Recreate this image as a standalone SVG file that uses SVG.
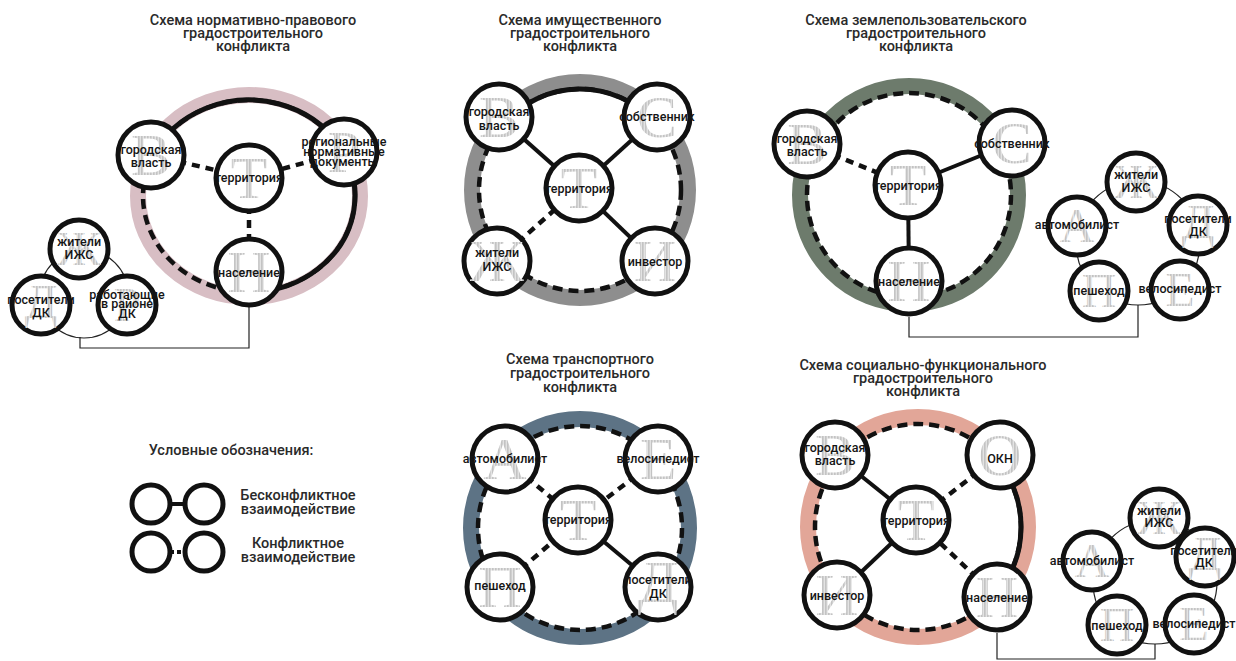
<svg xmlns="http://www.w3.org/2000/svg" width="1236" height="661" viewBox="0 0 1236 661">
<defs>
<pattern id="hatch" width="3" height="3" patternUnits="userSpaceOnUse"><rect width="3" height="3" fill="#e3e3e3"/><rect width="1.6" height="3" fill="#c3c3c3"/></pattern>
</defs>
<style>
.band{fill:none;stroke-width:16}
.rd{fill:none;stroke:#111;stroke-width:4.5;stroke-dasharray:10 6}
.rs{fill:none;stroke:#111;stroke-width:5}
.cs{stroke:#111;stroke-width:4}
.cd{stroke:#111;stroke-width:4.5;stroke-dasharray:8 6}
.thin{fill:none;stroke:#222;stroke-width:1.2}
.node{fill:#fff;stroke:#111;stroke-width:5}
.g{font-family:"Liberation Serif",serif;fill:url(#hatch);text-anchor:middle;font-size:60px}
.gs{font-family:"Liberation Serif",serif;fill:url(#hatch);text-anchor:middle;font-size:48px}
.l{font-family:Roboto,"DejaVu Sans",sans-serif;font-weight:500;fill:#151515;text-anchor:middle;font-size:12.5px}
.t{font-family:Roboto,"DejaVu Sans",sans-serif;font-weight:500;fill:#2a2a2a;text-anchor:middle;font-size:14.5px}
</style>

<!-- Titles -->
<g id="titles">
<text class="t" x="253" y="25">Схема нормативно-правового</text>
<text class="t" x="253" y="38">градостроительного</text>
<text class="t" x="253" y="51">конфликта</text>
<text class="t" x="580" y="25">Схема имущественного</text>
<text class="t" x="580" y="38">градостроительного</text>
<text class="t" x="580" y="51">конфликта</text>
<text class="t" x="916" y="25">Схема землепользовательского</text>
<text class="t" x="916" y="38">градостроительного</text>
<text class="t" x="916" y="51">конфликта</text>
<text class="t" x="580" y="364">Схема транспортного</text>
<text class="t" x="580" y="378">градостроительного</text>
<text class="t" x="580" y="392">конфликта</text>
<text class="t" x="923" y="370">Схема социально-функционального</text>
<text class="t" x="923" y="383">градостроительного</text>
<text class="t" x="923" y="396">конфликта</text>
</g>

<!-- Rings -->
<g id="rings">
<ellipse class="band" stroke="#d8bec4" cx="249" cy="196" rx="111" ry="101" stroke-width="15"/>
<circle class="band" stroke="#8e8e8e" cx="580" cy="190" r="108" stroke-width="18"/>
<circle class="band" stroke="#6d7b6c" cx="909" cy="195" r="109" stroke-width="17"/>
<circle class="band" stroke="#5d7385" cx="580" cy="528" r="109" stroke-width="18"/>
<circle class="band" stroke="#e2a698" cx="918" cy="527" r="110" stroke-width="17"/>
</g>

<!-- Connectors -->
<g id="connectors">
<!-- D1 -->
<ellipse class="rd" cx="249" cy="196" rx="106" ry="96"/>
<path class="rs" d="M152.8,155.7 A106,96 0 1,1 249,292"/>
<line class="cd" x1="151" y1="155" x2="249" y2="178"/>
<line class="cd" x1="344" y1="152" x2="249" y2="178"/>
<line class="cd" x1="249" y1="178" x2="249" y2="272"/>
<circle class="thin" cx="84" cy="294" r="44"/>
<polyline class="thin" points="80,337 80,348 249,348 249,305"/>
<!-- D2 -->
<circle class="rd" cx="580" cy="190" r="101"/>
<path class="rs" d="M505.4,121.9 A101,101 0 0,1 652.7,120"/>
<line class="cs" x1="499" y1="117" x2="579" y2="188"/>
<line class="cs" x1="657" y1="117" x2="579" y2="188"/>
<line class="cs" x1="655" y1="261" x2="579" y2="188"/>
<line class="cd" x1="497" y1="261" x2="579" y2="188"/>
<!-- D3 -->
<circle class="rd" cx="909" cy="195" r="102"/>
<line class="cd" x1="807" y1="144" x2="908" y2="185"/>
<line class="cs" x1="1012" y1="143" x2="908" y2="185"/>
<line class="cs" x1="908" y1="185" x2="909" y2="281"/>
<circle class="thin" cx="1138" cy="243" r="62"/>
<polyline class="thin" points="909,317 909,337 1138,337 1138,305"/>
<!-- D4 -->
<circle class="rd" cx="580" cy="528" r="102"/>
<line class="cd" x1="505" y1="459" x2="578" y2="520"/>
<line class="cd" x1="658" y1="459" x2="578" y2="520"/>
<line class="cd" x1="500" y1="587" x2="578" y2="520"/>
<line class="cs" x1="658" y1="587" x2="578" y2="520"/>
<!-- D5 -->
<circle class="rd" cx="918" cy="527" r="103"/>
<path class="rs" d="M995.4,459 A103,103 0 0,1 995.1,595.3"/>
<line class="cs" x1="835" y1="455" x2="916" y2="520"/>
<line class="cd" x1="1000" y1="455" x2="916" y2="520"/>
<line class="cs" x1="837" y1="595" x2="916" y2="520"/>
<line class="cd" x1="997" y1="597" x2="916" y2="520"/>
<circle class="thin" cx="1155" cy="582" r="62"/>
<polyline class="thin" points="997,633 997,659 1155,659 1155,644"/>
<!-- Legend -->
<line class="cs" x1="170" y1="504" x2="186" y2="504"/>
<line stroke="#111" stroke-width="4" stroke-dasharray="4 3" x1="170" y1="552" x2="186" y2="552"/>
</g>

<!-- D1 nodes -->
<g id="d1-gorod"><circle class="node" cx="151" cy="155" r="33"/><text class="g" x="151" y="175">В</text><text class="l" x="151" y="154" font-size="13.5">городская</text><text class="l" x="151" y="167" font-size="13.5">власть</text></g>
<g id="d1-region"><circle class="node" cx="344" cy="152" r="33"/><text class="g" x="344" y="172">Р</text><text class="l" x="344" y="146" font-size="9.5">региональные</text><text class="l" x="344" y="156" font-size="9.5">нормативные</text><text class="l" x="344" y="166" font-size="9.5">документы</text></g>
<g id="d1-terr"><circle class="node" cx="249" cy="178" r="33"/><text class="g" x="249" y="198">Т</text><text class="l" x="249" y="182" font-size="12.5">территория</text></g>
<g id="d1-nasel"><circle class="node" cx="249" cy="272" r="33"/><text class="g" x="249" y="292">Н</text><text class="l" x="249" y="277" font-size="13">население</text></g>
<g id="d1-zhit"><circle class="node" cx="79" cy="249" r="29"/><text class="gs" x="79" y="265">Ж</text><text class="l" x="79" y="246" font-size="13">жители</text><text class="l" x="79" y="259" font-size="13">ИЖС</text></g>
<g id="d1-posetit"><circle class="node" cx="41" cy="305" r="29"/><text class="gs" x="41" y="318">Д</text><text class="l" x="41" y="304" font-size="12">посетители</text><text class="l" x="41" y="317" font-size="12">ДК</text></g>
<g id="d1-rabot"><circle class="node" cx="127" cy="305" r="29"/><text class="gs" x="127" y="321">Р</text><text class="l" x="127" y="299" font-size="9.5">работающие</text><text class="l" x="127" y="308" font-size="9.5">в районе</text><text class="l" x="127" y="318" font-size="9.5">ДК</text></g>

<!-- D2 nodes -->
<g id="d2-gorod"><circle class="node" cx="499" cy="117" r="33"/><text class="g" x="499" y="137">В</text><text class="l" x="499" y="116" font-size="13.5">городская</text><text class="l" x="499" y="130" font-size="13.5">власть</text></g>
<g id="d2-sobst"><circle class="node" cx="657" cy="117" r="33"/><text class="g" x="657" y="137">С</text><text class="l" x="657" y="121" font-size="12">собственник</text></g>
<g id="d2-terr"><circle class="node" cx="579" cy="188" r="33"/><text class="g" x="579" y="208">Т</text><text class="l" x="579" y="193" font-size="12.5">территория</text></g>
<g id="d2-zhit"><circle class="node" cx="497" cy="261" r="33"/><text class="g" x="497" y="281">Ж</text><text class="l" x="497" y="257" font-size="14">жители</text><text class="l" x="497" y="271" font-size="14">ИЖС</text></g>
<g id="d2-invest"><circle class="node" cx="655" cy="261" r="33"/><text class="g" x="655" y="281">И</text><text class="l" x="655" y="266" font-size="14.5">инвестор</text></g>

<!-- D3 nodes -->
<g id="d3-gorod"><circle class="node" cx="807" cy="144" r="33"/><text class="g" x="807" y="164">В</text><text class="l" x="807" y="143" font-size="13.5">городская</text><text class="l" x="807" y="156" font-size="13.5">власть</text></g>
<g id="d3-sobst"><circle class="node" cx="1012" cy="143" r="33"/><text class="g" x="1012" y="163">С</text><text class="l" x="1012" y="148" font-size="11.5">собственник</text></g>
<g id="d3-terr"><circle class="node" cx="908" cy="185" r="33"/><text class="g" x="908" y="205">Т</text><text class="l" x="908" y="190" font-size="12.5">территория</text></g>
<g id="d3-nasel"><circle class="node" cx="909" cy="281" r="33"/><text class="g" x="909" y="301">Н</text><text class="l" x="909" y="286" font-size="13">население</text></g>
<g id="d3-zhit"><circle class="node" cx="1136" cy="182" r="29"/><text class="gs" x="1136" y="198">Ж</text><text class="l" x="1136" y="179" font-size="12.5">жители</text><text class="l" x="1136" y="192" font-size="12.5">ИЖС</text></g>
<g id="d3-posetit"><circle class="node" cx="1198" cy="225" r="29"/><text class="gs" x="1198" y="238">Д</text><text class="l" x="1198" y="223" font-size="11.5">посетители</text><text class="l" x="1198" y="236" font-size="11.5">ДК</text></g>
<g id="d3-avto"><circle class="node" cx="1077" cy="226" r="29"/><text class="gs" x="1077" y="242">А</text><text class="l" x="1077" y="229" font-size="10">автомобилист</text></g>
<g id="d3-pesh"><circle class="node" cx="1099" cy="291" r="29"/><text class="gs" x="1099" y="307">П</text><text class="l" x="1099" y="295" font-size="13">пешеход</text></g>
<g id="d3-velo"><circle class="node" cx="1180" cy="290" r="29"/><text class="gs" x="1180" y="306">Е</text><text class="l" x="1180" y="293" font-size="10">велосипедист</text></g>

<!-- D4 nodes -->
<g id="d4-avto"><circle class="node" cx="505" cy="459" r="33"/><text class="g" x="505" y="479">А</text><text class="l" x="505" y="463" font-size="11">автомобилист</text></g>
<g id="d4-velo"><circle class="node" cx="658" cy="459" r="33"/><text class="g" x="658" y="479">Е</text><text class="l" x="658" y="463" font-size="11">велосипедист</text></g>
<g id="d4-terr"><circle class="node" cx="578" cy="520" r="33"/><text class="g" x="578" y="540">Т</text><text class="l" x="578" y="524" font-size="12.5">территория</text></g>
<g id="d4-pesh"><circle class="node" cx="500" cy="587" r="33"/><text class="g" x="500" y="607">П</text><text class="l" x="500" y="590" font-size="13.5">пешеход</text></g>
<g id="d4-posetit"><circle class="node" cx="658" cy="587" r="33"/><text class="g" x="658" y="602">Д</text><text class="l" x="658" y="584" font-size="13">посетители</text><text class="l" x="658" y="598" font-size="13">ДК</text></g>

<!-- D5 nodes -->
<g id="d5-gorod"><circle class="node" cx="835" cy="455" r="33"/><text class="g" x="835" y="475">В</text><text class="l" x="835" y="452" font-size="13.5">городская</text><text class="l" x="835" y="465" font-size="13.5">власть</text></g>
<g id="d5-okn"><circle class="node" cx="1000" cy="455" r="33"/><text class="g" x="1000" y="475">О</text><text class="l" x="1000" y="463" font-size="22">ОКН</text></g>
<g id="d5-terr"><circle class="node" cx="916" cy="520" r="33"/><text class="g" x="916" y="540">Т</text><text class="l" x="916" y="525" font-size="12.5">территория</text></g>
<g id="d5-invest"><circle class="node" cx="837" cy="595" r="33"/><text class="g" x="837" y="615">И</text><text class="l" x="837" y="600" font-size="14">инвестор</text></g>
<g id="d5-nasel"><circle class="node" cx="997" cy="597" r="33"/><text class="g" x="997" y="617">Н</text><text class="l" x="997" y="602" font-size="13">население</text></g>
<g id="d5-zhit"><circle class="node" cx="1159" cy="518" r="29"/><text class="gs" x="1159" y="534">Ж</text><text class="l" x="1159" y="515" font-size="12.5">жители</text><text class="l" x="1159" y="527" font-size="12.5">ИЖС</text></g>
<g id="d5-avto"><circle class="node" cx="1092" cy="561" r="29"/><text class="gs" x="1092" y="577">А</text><text class="l" x="1092" y="565" font-size="10">автомобилист</text></g>
<g id="d5-posetit"><circle class="node" cx="1205" cy="557" r="29"/><text class="gs" x="1205" y="570">Д</text><text class="l" x="1204" y="555" font-size="10.5">посетители</text><text class="l" x="1204" y="567" font-size="10.5">ДК</text></g>
<g id="d5-pesh"><circle class="node" cx="1117" cy="625" r="29"/><text class="gs" x="1117" y="641">П</text><text class="l" x="1117" y="630" font-size="13">пешеход</text></g>
<g id="d5-velo"><circle class="node" cx="1194" cy="624" r="29"/><text class="gs" x="1194" y="640">Е</text><text class="l" x="1194" y="628" font-size="10">велосипедист</text></g>

<!-- Legend -->
<g id="legend">
<text class="t" x="231" y="455">Условные обозначения:</text>
<circle class="node" cx="151" cy="504" r="19"/>
<circle class="node" cx="204" cy="504" r="19"/>
<circle class="node" cx="151" cy="552" r="19"/>
<circle class="node" cx="204" cy="552" r="19"/>
<text class="t" x="298" y="500">Бесконфликтное</text>
<text class="t" x="298" y="514">взаимодействие</text>
<text class="t" x="298" y="548">Конфликтное</text>
<text class="t" x="298" y="562">взаимодействие</text>
</g>
</svg>
